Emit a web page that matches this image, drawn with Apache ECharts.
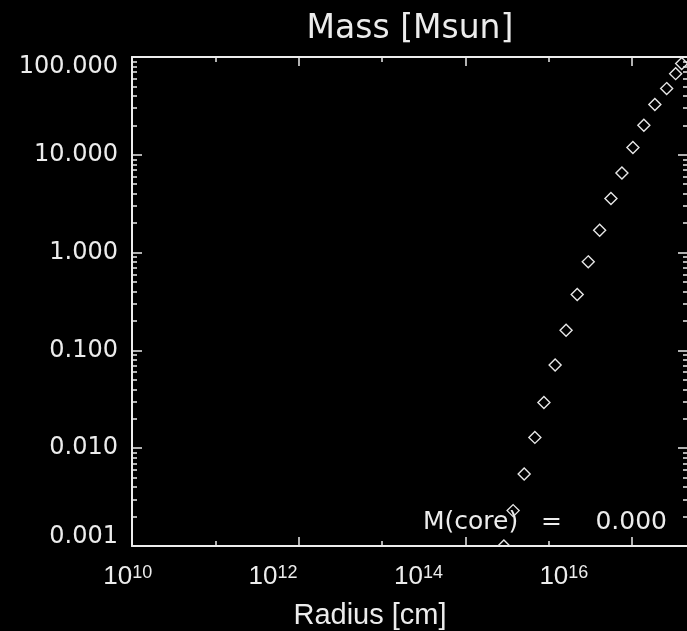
<!DOCTYPE html>
<html>
<head>
<meta charset="utf-8">
<script src="https://cdn.jsdelivr.net/npm/echarts@6/dist/echarts.min.js"></script>
<style>
  html, body { margin: 0; padding: 0; background: #000; }
  #chart { width: 687px; height: 631px; }
</style>
</head>
<body>
<div id="chart"></div>
<script>
// Enclosed mass profile: radius [cm] against mass [Msun]
const radius = [2.89e14, 3.73e14, 5.06e14, 6.80e14, 8.73e14, 1.19e15, 1.61e15, 2.19e15, 2.97e15,
                4.07e15, 5.56e15, 7.53e15, 1.02e16, 1.38e16, 1.87e16, 2.59e16, 3.32e16, 3.92e16];
const mass   = [0.00100, 0.00230, 0.00545, 0.0129, 0.0294, 0.0708, 0.161, 0.373, 0.804,
                1.69, 3.57, 6.53, 11.9, 20.0, 32.6, 47.5, 67.6, 85.6];
const radiusRange = [1e10, 4.67e16];
const massRange = [1e-3, 1e2];
const radiusMajor = [1e10, 1e12, 1e14, 1e16];   // labelled decades
const radiusMinor = [1e11, 1e13, 1e15];
const massMajor = [1e-3, 1e-2, 1e-1, 1, 10, 100];
const coreMass = 0.000;
const titleText = 'Mass [Msun]';
const xTitle = 'Radius [cm]';

const ink = '#ececec';
const font = 'DejaVu Sans';

// minor ticks at 2..9 within every mass decade
const massMinor = [];
for (let i = 0; i < massMajor.length - 1; i++) {
  for (let k = 2; k <= 9; k++) massMinor.push(+(massMajor[i] * k).toPrecision(3));
}

// the exponent labels run on a slightly narrower spread than the ticks
function labelShift(exp) { return 4.3 + 10.67 * (exp - 10); }

const xRich = { b: { fontSize: 26, fontFamily: 'Liberation Sans', color: ink } };
radiusMajor.forEach(v => {
  const e = Math.round(Math.log10(v));
  xRich['s' + e] = { fontSize: 18, fontFamily: 'Liberation Sans', color: ink, padding: [0, 2 * labelShift(e), 8, 0] };
});

const yRich = {
  t: { fontSize: 24, fontFamily: font, color: ink, padding: [20, 0, 0, 0] },
  m: { fontSize: 24, fontFamily: font, color: ink },
  d: { fontSize: 24, fontFamily: font, color: ink, padding: [0, 0, 18, 0] }
};

const line = { show: true, lineStyle: { color: ink, width: 2 } };
const noLine = { show: false };
const tick = (values, len) => ({
  show: true, inside: true, length: len, customValues: values,
  lineStyle: { color: ink, width: 1.5 }
});

function xAxisDef(position, values, len, extra) {
  return Object.assign({
    type: 'log', logBase: 10, position, gridIndex: 0,
    min: radiusRange[0], max: radiusRange[1],
    axisLine: line, axisTick: tick(values, len),
    splitLine: { show: false }, axisLabel: { show: false }
  }, extra || {});
}
function yAxisDef(position, values, len, extra) {
  return Object.assign({
    type: 'log', logBase: 10, position, gridIndex: 0,
    min: massRange[0], max: massRange[1],
    axisLine: line, axisTick: tick(values, len),
    splitLine: { show: false }, axisLabel: { show: false }
  }, extra || {});
}

const chart = echarts.init(document.getElementById('chart'));
chart.setOption({
  backgroundColor: '#000',
  animation: false,
  textStyle: { fontFamily: font, color: ink },
  grid: { left: 132, right: -1, top: 57, bottom: 85, containLabel: false, outerBoundsMode: 'none' },
  xAxis: [
    xAxisDef('bottom', radiusMajor, 9, {
      axisLabel: {
        show: true, margin: 18, customValues: radiusMajor,
        formatter: (v) => {
          const e = Math.round(Math.log10(v));
          return '{b|10}{s' + e + '|' + e + '}';
        },
        rich: xRich
      },
      name: xTitle, nameLocation: 'middle', nameGap: 55,
      nameTextStyle: { fontFamily: 'Liberation Sans', fontSize: 29, color: ink, padding: [0, 80, 0, 0] }
    }),
    xAxisDef('bottom', radiusMinor, 5, { axisLine: noLine }),
    xAxisDef('top', radiusMajor, 9, {
      name: titleText, nameLocation: 'middle', nameGap: 11,
      nameTextStyle: { fontFamily: font, fontSize: 33, color: ink }
    }),
    xAxisDef('top', radiusMinor, 5, { axisLine: noLine })
  ],
  yAxis: [
    yAxisDef('left', massMajor, 10, {
      axisLabel: {
        show: true, margin: 14, customValues: massMajor,
        formatter: (v) => {
          const s = v.toFixed(3);
          if (v >= massRange[1]) return '{t|' + s + '}';
          if (v <= massRange[0]) return '{d|' + s + '}';
          return '{m|' + s + '}';
        },
        rich: yRich
      }
    }),
    yAxisDef('left', massMinor, 5, { axisLine: noLine }),
    yAxisDef('right', massMajor, 10),
    yAxisDef('right', massMinor, 5, { axisLine: noLine })
  ],
  series: [{
    type: 'custom',
    xAxisIndex: 0, yAxisIndex: 0,
    clip: true,
    encode: { x: 0, y: 1 },
    data: radius.map((r, i) => [r, mass[i]]),
    renderItem: (params, api) => {
      const p = api.coord([api.value(0), api.value(1)]);
      const h = 6;
      return {
        type: 'polygon',
        shape: { points: [[p[0], p[1] - h], [p[0] + h, p[1]], [p[0], p[1] + h], [p[0] - h, p[1]]] },
        style: { fill: 'none', stroke: '#e6e6e6', lineWidth: 1.4 }
      };
    }
  }],
  graphic: [
    { type: 'text', left: 423, top: 510, style: { text: 'M(core)', fill: ink, font: '25px "DejaVu Sans"' } },
    { type: 'text', left: 541, top: 510, style: { text: '=', fill: ink, font: '25px "DejaVu Sans"' } },
    { type: 'text', right: 20, top: 510, style: { text: coreMass.toFixed(3), fill: ink, font: '25px "DejaVu Sans"' } }
  ]
});
</script>
</body>
</html>
